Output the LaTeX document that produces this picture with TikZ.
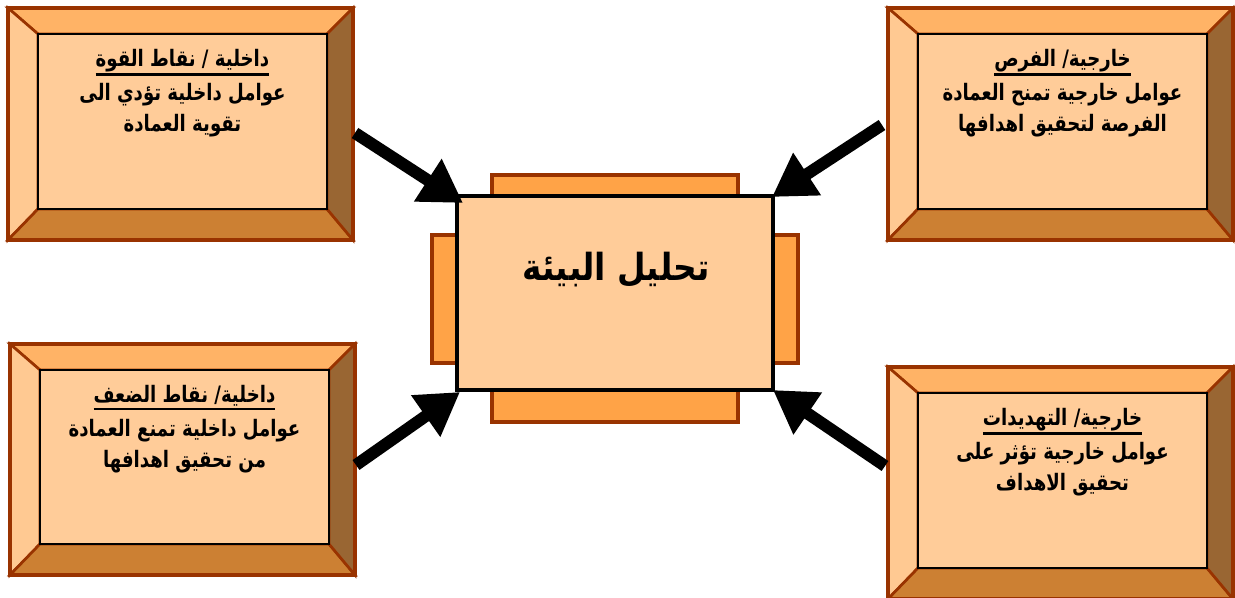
\documentclass[tikz,border=0pt]{standalone}
\usepackage{fontspec}
\newfontfamily\arabicfont[Script=Arabic,FakeStretch=0.8]{DejaVu Sans}
\newfontfamily\arabictitle[Script=Arabic,FakeStretch=0.88]{DejaVu Sans}
\TeXXeTstate=1
\usetikzlibrary{arrows.meta}
\definecolor{edgebrown}{HTML}{993300}
\definecolor{facecol}{HTML}{FFCC99}
\definecolor{bevtop}{HTML}{FFB366}
\definecolor{bevleft}{HTML}{FFC992}
\definecolor{bevbot}{HTML}{CC8033}
\definecolor{bevright}{HTML}{996633}
\definecolor{orng}{HTML}{FFA347}
\newcommand\hdrline[1]{\vtop{\hbox{\beginR #1\endR}\kern1pt\hrule height 1.9pt}}
\tikzset{
  bevel/.style={draw=edgebrown, line width=2pt, line join=miter},
  facebox/.style={draw=black, line width=1.5pt, fill=facecol},
  boxtext/.style={font=\arabicfont\bfseries\fontsize{17}{23}\selectfont, align=center, anchor=north, inner sep=0pt},
  bigarrow/.style={line width=9pt, -{Triangle[length=31.5pt,width=36pt]}},
  backrect/.style={draw=edgebrown, line width=2.5pt, fill=orng}
}
\newcommand\bevbox[5]{%
  \pgfmathsetmacro\ixa{#2+30}\pgfmathsetmacro\iya{#3+26}%
  \pgfmathsetmacro\ixb{#4-26}\pgfmathsetmacro\iyb{#5-31}%
  \pgfmathsetmacro\cxx{(\ixa+\ixb)/2}%
  \filldraw[bevel, fill=bevtop] (#2,#3) -- (#4,#3) -- (\ixb,\iya) -- (\ixa,\iya) -- cycle;
  \filldraw[bevel, fill=bevleft] (#2,#3) -- (\ixa,\iya) -- (\ixa,\iyb) -- (#2,#5) -- cycle;
  \filldraw[bevel, fill=bevbot] (#2,#5) -- (\ixa,\iyb) -- (\ixb,\iyb) -- (#4,#5) -- cycle;
  \filldraw[bevel, fill=bevright] (#4,#3) -- (#4,#5) -- (\ixb,\iyb) -- (\ixb,\iya) -- cycle;
  \draw[draw=edgebrown, line width=3pt] (#2,#3) rectangle (#4,#5);
  \draw[facebox] (\ixa,\iya) rectangle (\ixb,\iyb);
  \coordinate (#1-c) at (\cxx,\iya+15);
}
\begin{document}
\begin{tikzpicture}[x=0.75pt,y=-0.75pt]
\useasboundingbox (0,0) rectangle (1235,598);
% four bevelled boxes
\bevbox{tl}{8}{8}{353}{240}
\node[boxtext] (tltext) at (tl-c) {\hdrline{داخلية / نقاط القوة}\\[2.5pt] \beginR عوامل داخلية تؤدي الى\endR\\ \beginR تقوية العمادة\endR};
\bevbox{tr}{888}{8}{1233}{240}
\node[boxtext] (trtext) at (tr-c) {\hdrline{خارجية/ الفرص}\\[2.5pt] \beginR عوامل خارجية تمنح العمادة\endR\\ \beginR الفرصة لتحقيق اهدافها\endR};
\bevbox{bl}{10}{344}{355}{575}
\node[boxtext] (bltext) at (bl-c) {\hdrline{داخلية/ نقاط الضعف}\\[2.5pt] \beginR عوامل داخلية تمنع العمادة\endR\\ \beginR من تحقيق اهدافها\endR};
\bevbox{br}{888}{367}{1233}{599}
\node[boxtext] (brtext) at (br-c) {\hdrline{خارجية/ التهديدات}\\[2.5pt] \beginR عوامل خارجية تؤثر على\endR\\ \beginR تحقيق الاهداف\endR};
% centre
\draw[backrect] (492,175) rectangle (738,422);
\draw[backrect] (432,235) rectangle (798,363);
\node[draw=black, line width=3pt, fill=facecol, minimum width=237pt, minimum height=145.5pt, inner sep=0pt] (centre) at (615,293) {};
\node[font=\arabictitle\bfseries\fontsize{28}{32}\selectfont, inner sep=0pt] (ctext) at (616,270) {\beginR تحليل البيئة\endR};
% arrows
\coordinate (tlTail) at (355,133);
\coordinate (tlTip) at (463,203);
\coordinate (trTail) at (882,125);
\coordinate (trTip) at (772,197);
\coordinate (blTail) at (356,465);
\coordinate (blTip) at (460,392);
\coordinate (brTail) at (885,466);
\coordinate (brTip) at (773,390);
\draw[bigarrow] (tlTail) -- (tlTip);
\draw[bigarrow] (trTail) -- (trTip);
\draw[bigarrow] (blTail) -- (blTip);
\draw[bigarrow] (brTail) -- (brTip);
\end{tikzpicture}
\end{document}
